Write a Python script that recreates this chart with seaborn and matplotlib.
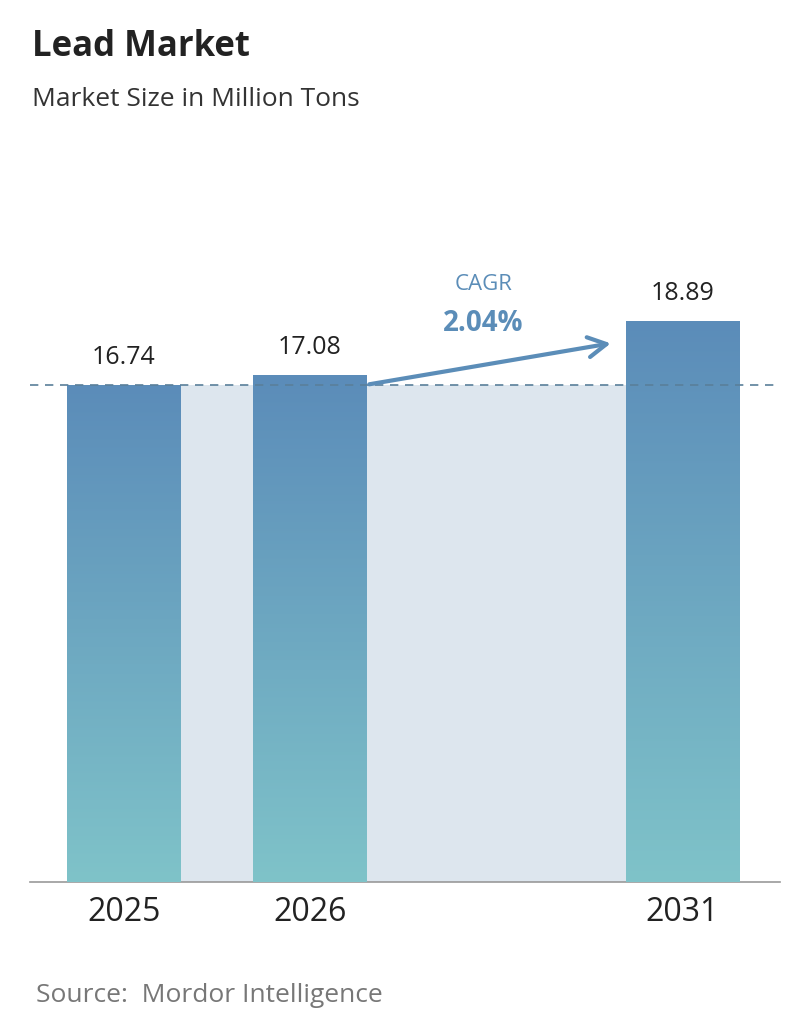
import numpy as np
import pandas as pd
import matplotlib.pyplot as plt
import seaborn as sns
from matplotlib.colors import LinearSegmentedColormap

years = ["2025", "2026", "2031"]
positions = [0, 1, 3]
values = [16.74, 17.08, 18.89]
cagr_label = "2.04%"

sns.set_theme(style="white")
plt.rcParams['font.family'] = ['Open Sans', 'DejaVu Sans']

fig = plt.figure(figsize=(7.96, 10.34), dpi=100)
ax = fig.add_axes([30 / 796, 1 - 882 / 1034, 750 / 796, 682 / 1034])

df = pd.DataFrame({"pos": positions, "value": values})
width = 0.608
sns.barplot(data=df, x="pos", y="value", native_scale=True, width=width,
            color="#6a9fc0", ax=ax, zorder=2)

xlim = (-0.503, 3.524)
ylim = (0, 22.96)

# shaded band between bars, up to first value level
ax.fill_between([positions[0] + width / 2, positions[2] - width / 2], 0, values[0],
                color="#dde6ee", zorder=1, linewidth=0)

# gradient bars
cmap = LinearSegmentedColormap.from_list("g", ["#7fc3c9", "#5b8cb9"])
grad = np.linspace(0, 1, 256).reshape(-1, 1)
for patch in ax.patches:
    im = ax.imshow(grad, cmap=cmap, aspect="auto", origin="lower",
                   extent=[patch.get_x(), patch.get_x() + patch.get_width(), 0, patch.get_height()],
                   zorder=3)
    im.set_clip_path(patch)
    patch.set_facecolor("none")
    patch.set_edgecolor("none")
ax.set_xlim(*xlim)
ax.set_ylim(*ylim)

ax.axhline(values[0], color="#5a7f9a", linestyle=(0, (5, 4)), linewidth=1.2, zorder=4)

for p, v in zip(positions, values):
    ax.text(p, v + 0.5, f"{v:.2f}", ha="center", va="bottom", fontsize=18, color="#222222", zorder=5)

ax.annotate("", xy=(2.63, 18.15), xytext=(positions[1] + width / 2, values[0]),
            arrowprops=dict(arrowstyle="->,head_length=1.1,head_width=0.6", color="#5b8db8",
                            lw=3), zorder=5)
ax.text(1.93, 20.1, "CAGR", ha="center", va="center", fontsize=16, color="#5b8db8")
ax.text(1.93, 18.8, cagr_label, ha="center", va="center", fontsize=20, fontweight="bold",
        color="#5b8db8")

ax.set_xticks(positions)
ax.set_xticklabels(years, fontsize=23, color="#222222")
ax.tick_params(axis="x", length=0, pad=10)
ax.set_yticks([])
ax.set_xlabel("")
ax.set_ylabel("")
for s in ["top", "left", "right"]:
    ax.spines[s].set_visible(False)
ax.spines["bottom"].set_color("#999999")
ax.spines["bottom"].set_linewidth(1.2)

fig.text(32 / 796, 1 - 47 / 1034, "Lead Market", fontsize=25, fontweight="bold",
         color="#222222", va="center")
fig.text(32 / 796, 1 - 99 / 1034, "Market Size in Million Tons", fontsize=19,
         color="#333333", va="center")
fig.text(36 / 796, 1 - 996 / 1034, "Source:  Mordor Intelligence", fontsize=19,
         color="#777777", va="center")

fig.savefig("out.png", dpi=100)
